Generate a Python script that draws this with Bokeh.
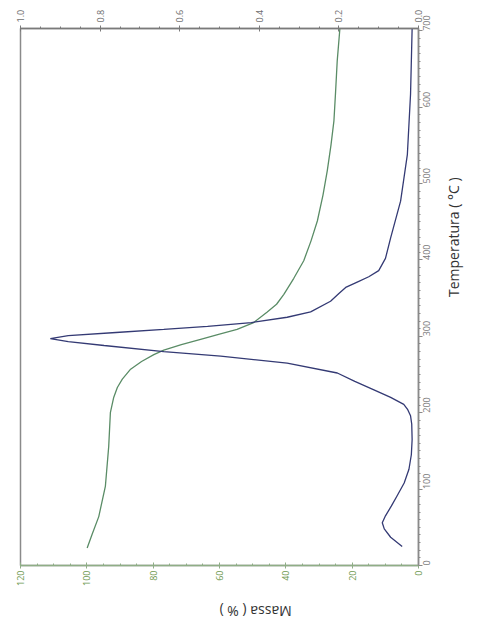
import math
from bokeh.plotting import figure
from bokeh.models import Range1d, LinearAxis, FixedTicker, PrintfTickFormatter
from bokeh.embed import file_html
from bokeh.resources import INLINE

# ---- data ----
temp_mass = [23, 41, 64, 104, 156, 200, 220, 233, 244, 257, 267, 276, 282, 289, 296, 303, 309,
             318, 332, 342, 355, 376, 399, 425, 451, 485, 517, 550, 582, 620, 661, 703]
mass = [99.9, 98.4, 96.4, 94.4, 93.4, 92.9, 91.9, 90.8, 89.3, 86.8, 83.5, 79.8, 76.8, 71.5, 65.7,
        60.0, 54.7, 49.7, 45.6, 42.8, 40.6, 37.6, 34.6, 32.4, 30.5, 28.8, 27.5, 26.4, 25.5, 25.0,
        24.5, 23.7]

temp_dtg = [25, 37, 48, 56, 65, 78, 91, 108, 126, 145, 165, 185, 196, 204, 211, 220, 230, 241,
            252, 265, 274, 280, 288, 293, 297, 301, 305, 309, 313, 318, 325, 332, 346, 356, 364,
            371, 378, 386, 402, 429, 477, 538, 617, 703]
dtg = [0.041, 0.070, 0.086, 0.091, 0.083, 0.068, 0.054, 0.036, 0.024, 0.018, 0.016, 0.017, 0.020,
       0.027, 0.037, 0.070, 0.112, 0.160, 0.204, 0.330, 0.497, 0.640, 0.790, 0.880, 0.925, 0.880,
       0.760, 0.640, 0.530, 0.420, 0.330, 0.271, 0.221, 0.200, 0.183, 0.154, 0.125, 0.100, 0.083,
       0.070, 0.045, 0.028, 0.020, 0.016]

mass_ticks = [0, 20, 40, 60, 80, 100, 120]
dtg_ticks = [0.0, 0.2, 0.4, 0.6, 0.8, 1.0]
temp_ticks = [0, 100, 200, 300, 400, 500, 600, 700]

FONT = "Open Sans"
GREEN = "#5a8c66"
BLUE = "#343a74"

p = figure(width=478, height=635, output_backend="svg", toolbar_location=None,
           x_range=Range1d(120, 0), y_range=Range1d(0, 703),
           x_axis_location="below", y_axis_location="right",
           min_border_left=20, min_border_right=60, min_border_top=28, min_border_bottom=70)
p.grid.visible = False
p.outline_line_color = "#8a8a8a"
p.outline_line_width = 1.5
p.background_fill_color = "white"
p.border_fill_color = "white"

p.extra_x_ranges = {"dtg": Range1d(1.0, 0.0)}

# bottom (mass) axis
xa = p.xaxis[0]
xa.ticker = FixedTicker(ticks=mass_ticks, minor_ticks=list(range(0, 121, 5)))
xa.major_label_orientation = math.pi / 2
xa.axis_line_color = "#8fae86"
xa.axis_line_width = 1.5
xa.major_tick_line_color = "#8fae86"
xa.minor_tick_line_color = "#8fae86"
xa.major_tick_in = 3
xa.major_tick_out = 3
xa.minor_tick_in = 2
xa.minor_tick_out = 0
xa.major_label_text_color = "#6f9a52"
xa.major_label_text_font = FONT
xa.major_label_text_font_size = "9px"
xa.major_label_standoff = 2
xa.axis_label = "Massa ( % )"
xa.axis_label_orientation = math.pi
xa.axis_label_text_font = FONT
xa.axis_label_text_font_style = "normal"
xa.axis_label_text_font_size = "14px"
xa.axis_label_text_color = "#333333"
xa.axis_label_standoff = 23

# top (DTG) axis
ta = LinearAxis(x_range_name="dtg",
                ticker=FixedTicker(ticks=dtg_ticks, minor_ticks=[i * 0.05 for i in range(21)]),
                formatter=PrintfTickFormatter(format="%.1f"))
ta.major_label_orientation = math.pi / 2
ta.axis_line_color = "#7a7a7a"
ta.axis_line_width = 1.5
ta.major_tick_line_color = "#7a7a7a"
ta.minor_tick_line_color = "#7a7a7a"
ta.major_tick_in = 3
ta.major_tick_out = 3
ta.minor_tick_in = 0
ta.minor_tick_out = 2
ta.major_label_text_color = "#6e6e6e"
ta.major_label_text_font = FONT
ta.major_label_text_font_size = "9px"
ta.major_label_standoff = 3
p.add_layout(ta, "above")

# right (temperature) axis
ya = p.yaxis[0]
ya.ticker = FixedTicker(ticks=temp_ticks, minor_ticks=list(range(0, 701, 10)))
ya.major_label_orientation = math.pi / 2
ya.axis_line_color = "#8a8a8a"
ya.axis_line_width = 1.5
ya.major_tick_line_color = "#8a8a8a"
ya.minor_tick_line_color = "#8a8a8a"
ya.major_tick_in = 0
ya.major_tick_out = 4
ya.minor_tick_in = 0
ya.minor_tick_out = 2
ya.major_label_text_color = "#7a7a7a"
ya.major_label_text_font = FONT
ya.major_label_text_font_size = "9px"
ya.major_label_standoff = 4
ya.axis_label = "Temperatura ( °C )"
ya.axis_label_orientation = -1.5 * math.pi
ya.axis_label_text_font = FONT
ya.axis_label_text_font_style = "normal"
ya.axis_label_text_font_size = "14px"
ya.axis_label_text_color = "#333333"
ya.axis_label_standoff = 17

# curves
p.line(mass, temp_mass, line_color=GREEN, line_width=1.3)
p.line(dtg, temp_dtg, line_color=BLUE, line_width=1.3, x_range_name="dtg")

open("out.html", "w").write(file_html(p, INLINE))
